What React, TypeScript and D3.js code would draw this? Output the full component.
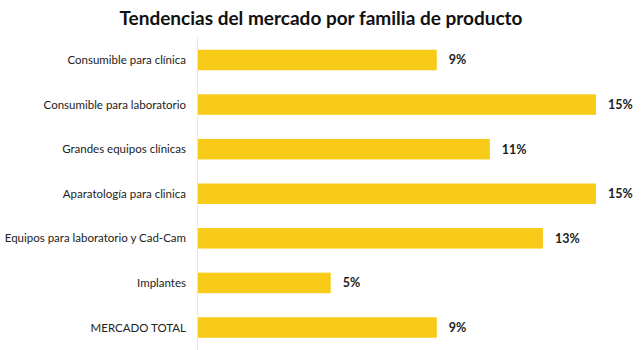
import React from "react";
import * as d3 from "d3";

const categories = [
  "Consumible para clínica",
  "Consumible para laboratorio",
  "Grandes equipos clínicas",
  "Aparatología para clinica",
  "Equipos para laboratorio y Cad-Cam",
  "Implantes",
  "MERCADO TOTAL",
];
const values = [9, 15, 11, 15, 13, 5, 9];
const valueLabels = ["9%", "15%", "11%", "15%", "13%", "5%", "9%"];
const title = "Tendencias del mercado por familia de producto";

const W = 642;
const H = 350;
const FONT = "Lato, 'Open Sans', sans-serif";

export default function App() {
  const x = d3.scaleLinear().domain([0, 15]).range([198, 596]);
  const y = d3
    .scaleBand<string>()
    .domain(categories)
    .range([37.7, 349.8])
    .paddingInner(0.54)
    .paddingOuter(0.27);

  return (
    <svg
      width={W}
      height={H}
      style={{ position: "absolute", left: 0, top: 0, background: "#fff" }}
    >
      <text
        x={321}
        y={25}
        textAnchor="middle"
        fontFamily={FONT}
        fontWeight={700}
        fontSize={19}
        fill="#111"
      >
        {title}
      </text>
      <line x1={197.5} x2={197.5} y1={38} y2={350} stroke="#e6e6e6" strokeWidth={1} />
      {categories.map((c, i) => {
        const yy = y(c)!;
        const bw = y.bandwidth();
        return (
          <g key={c}>
            <rect x={x(0)} y={yy} width={x(values[i]) - x(0)} height={bw} fill="#F7CB17" />
            <text
              x={186}
              y={yy + bw / 2}
              dy="0.35em"
              textAnchor="end"
              fontFamily={FONT}
              fontSize={11.5}
              fill="#222"
            >
              {c}
            </text>
            <text
              x={x(values[i]) + 12}
              y={yy + bw / 2}
              dy="0.35em"
              fontFamily={FONT}
              fontWeight={700}
              fontSize={12.5}
              fill="#222"
            >
              {valueLabels[i]}
            </text>
          </g>
        );
      })}
    </svg>
  );
}
